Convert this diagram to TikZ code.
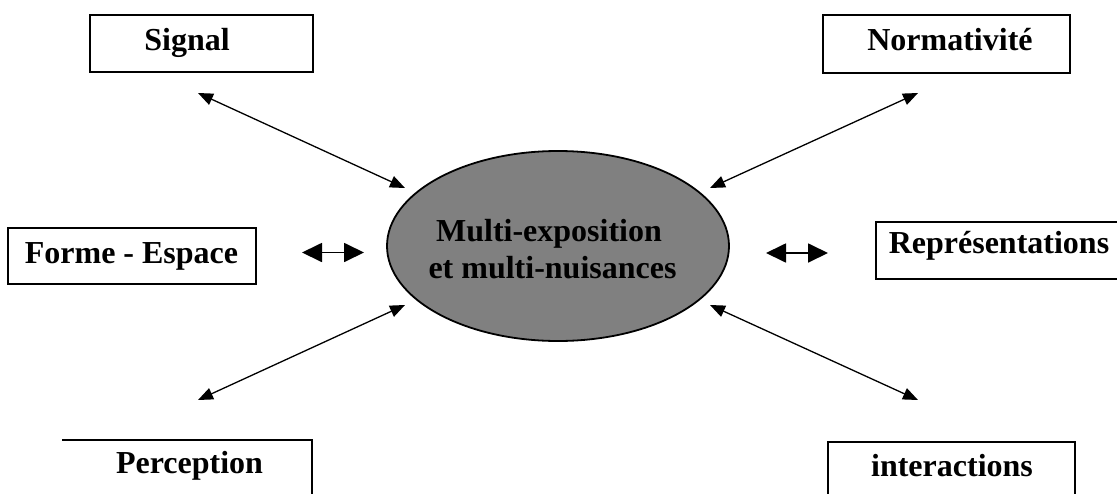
\documentclass[tikz,border=0pt]{standalone}
\usepackage{fontspec}
\setmainfont{Liberation Serif}
\usetikzlibrary{arrows.meta,shapes.geometric}
\begin{document}
\begin{tikzpicture}[x=1pt,y=-1pt,
  boxframe/.style={draw=black,line width=1.8pt,inner sep=0pt,fill=none},
  openframe/.style={draw=black,line width=1.8pt},
  lbl/.style={inner sep=0pt,anchor=base,font=\bfseries\fontsize{32}{37}\selectfont},
  thinlink/.style={line width=1.3pt,{Triangle[length=15pt,width=12pt]}-{Triangle[length=15pt,width=12pt]}},
  boldlink/.style={line width=1.8pt,{Triangle[length=20pt,width=19pt]}-{Triangle[length=20pt,width=19pt]}}
]
\useasboundingbox (0,0) rectangle (1117,493);

% central ellipse
\node[ellipse,draw=black,line width=1.8pt,fill=black!50,minimum width=342pt,minimum height=190pt,inner sep=0pt] (core) at (558,246) {};
\node[lbl] (coreA) at (549,241) {Multi-exposition};
\node[lbl] (coreB) at (552.5,278) {et multi-nuisances};

% top boxes
\node[boxframe,minimum width=223pt,minimum height=57pt] (signalbox) at (201.5,43.5) {};
\node[lbl] (signal) at (187,50) {Signal};
\node[boxframe,minimum width=247pt,minimum height=58pt] (normbox) at (946.5,44) {};
\node[lbl] (norm) at (950,50) {Normativité};

% middle boxes
\node[boxframe,minimum width=248pt,minimum height=56pt] (formebox) at (132,256) {};
\node[lbl] (forme) at (131.5,263) {Forme - Espace};
\draw[openframe] (1119,222) -- (876,222) -- (876,279) -- (1119,279);
\node[lbl] (repr) at (999,253) {Représentations};

% bottom boxes (cut by the lower edge)
\draw[openframe] (62,440) -- (312,440) -- (312,495);
\node[lbl] (perc) at (189.5,473) {Perception};
\draw[openframe] (828,495) -- (828,442) -- (1075,442) -- (1075,495);
\node[lbl] (inter) at (952,476) {interactions};

% arrow end points
\coordinate (sA) at (198,93);   \coordinate (sB) at (405,188);
\coordinate (nA) at (918,93);   \coordinate (nB) at (710,188);
\coordinate (pA) at (198,400);  \coordinate (pB) at (405,305);
\coordinate (iA) at (918,400);  \coordinate (iB) at (710,305);
\coordinate (fA) at (302,252.5);  \coordinate (fB) at (364,252.5);
\coordinate (rA) at (766,253);  \coordinate (rB) at (828,253);

\draw[thinlink] (sA) -- (sB);
\draw[thinlink] (nA) -- (nB);
\draw[thinlink] (pA) -- (pB);
\draw[thinlink] (iA) -- (iB);
\draw[boldlink] (fA) -- (fB);
\draw[boldlink] (rA) -- (rB);
\end{tikzpicture}
\end{document}
